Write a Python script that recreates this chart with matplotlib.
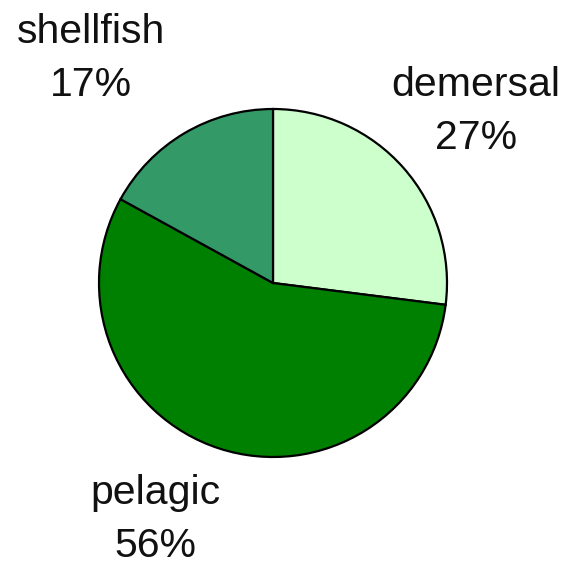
import matplotlib
matplotlib.use('Agg')
import matplotlib.pyplot as plt

labels = ['demersal', 'pelagic', 'shellfish']
shares = [27, 56, 17]
colors = ['#ccffcc', '#008000', '#339966']

# label block centres, in pie-radius units
label_xy = [(1.167, 0.985), (-0.678, -1.36), (-1.046, 1.293)]

plt.rcParams['font.family'] = ['Liberation Sans', 'DejaVu Sans']

fig = plt.figure(figsize=(5.72, 5.68), dpi=100)
ax = fig.add_axes([0, 0, 1, 1])

wedges, texts = ax.pie(
    shares, labels=[f'{l}\n{v}%' for l, v in zip(labels, shares)],
    colors=colors, startangle=90, counterclock=False,
    wedgeprops={'edgecolor': 'black', 'linewidth': 1.6},
    textprops={'fontsize': 29.5, 'color': '#111111', 'linespacing': 1.5})
for t, xy in zip(texts, label_xy):
    t.set_position(xy)
    t.set_ha('center')
    t.set_va('center')
    t.set_multialignment('center')

r = 174.0
ax.set_xlim(-273 / r, (572 - 273) / r)
ax.set_ylim(-285 / r, 283 / r)
ax.set_aspect('equal')
ax.axis('off')

fig.savefig('out.png', dpi=100)
